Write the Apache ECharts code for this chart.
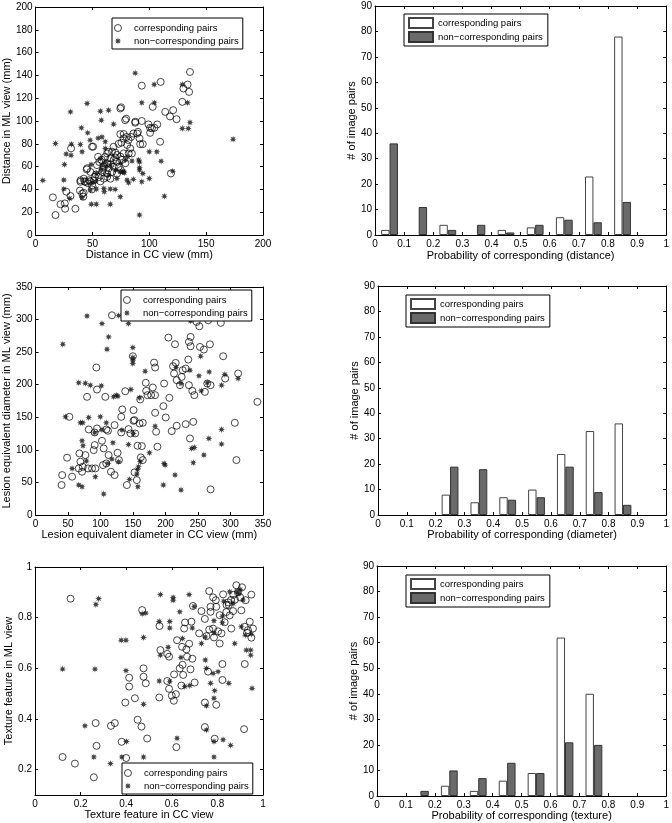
<!DOCTYPE html>
<html><head><meta charset="utf-8">
<script src="https://cdn.jsdelivr.net/npm/echarts@6/dist/echarts.min.js"></script>
<style>html,body{margin:0;padding:0;background:#fff}#c{width:672px;height:823px}</style>
</head><body><div id="c"></div>
<script>
// ---------- DATA ----------
const labelCorr = 'corresponding pairs';
const labelNon = 'non\u2212corresponding pairs';

// Panel 1: distance scatter [CC view, ML view] (mm)
const distCorr = [[15.2,33],[17.5,17.5],[21.9,27],[25.7,27.7],[26,23],[27,38],[30.7,34.2],[31.2,76],[35,23],[39,39],[39.4,46.7],[42,33.6],[42.3,37],[43,47],[46,45.5],[45,57.5],[48,47],[49.6,77.4],[49.6,40],[52,51],[54,61.3],[55,68.6],[61.3,68.6],[64,73],[68.6,77.4],[73,80],[74.5,111],[74.5,88.5],[77.4,84.7],[78.8,100.7],[79.7,102],[80,86],[81.8,83.2],[83.2,76],[84.7,71.5],[86,89],[87.6,98.5],[90,90.5],[91.4,84.7],[92,79.7],[93.4,100],[93.4,131],[94.3,79.7],[99.3,97],[100.7,94],[100.7,89.6],[104.5,94],[103,112.4],[107,97],[110,134.3],[109.5,81.8],[114,108],[118.2,104],[119,54],[121,109.5],[124,101.6],[129,116.8],[130,128.5],[133.7,132],[135,125.5],[135.8,143],
[62.9,71.6],[67.2,73.1],[70.2,72.2],[71.6,70.2],[74.6,68.7],[77.5,71.6],[81.9,71.6],[65.8,67.3],[68.7,65.8],[71.6,64.3],[62.9,62.9],[60,59.9],[64.3,58.5],[68.7,59.9],[73.1,59.9],[58.5,55.3],[62.9,53.8],[67.3,55.3],[71.6,53.8],[55.6,50.9],[60,49.4],[65.8,49.4],[45.3,58.5],[48.2,55.3],[42.4,49.4],[39.5,48],[43.9,46.5],[46.8,48],[51.2,48],[49.7,43.6],[41,36.3],
[75.2,112],[87.7,99.4],[102.3,93.6],[77.5,88.6],[75.5,81],[84,86],[80.5,79],[89.3,89],[50.6,77.5],[56,64],[58,66],[66,62],[70,68],[59,57],[63,51],[76,66],[79,63],[53,53],[57,47],[75,57]];
const distNon = [[6.4,47.9],[17.5,80.3],[25.4,61.9],[24.8,48.2],[24.8,40.3],[26.9,71],[30,32],[30.7,108],[31.2,70],[31.5,79.7],[39.4,79.4],[40.3,94],[40.9,73],[40.9,32.7],[45.3,115.3],[45.8,89.6],[48,83.2],[48.8,61.9],[49,27],[49.6,45.8],[53.4,40.3],[53.4,27],[55,85],[57,108.6],[57.8,100.7],[58.4,86],[61.3,81.8],[60.4,38],[64.2,109.5],[65.7,40.3],[65.7,27],[68.6,97.2],[70,40],[71.5,49.6],[74.5,33.6],[78,54.6],[81.8,45.8],[86,48.8],[87.6,142],[91.4,64],[91.4,59],[91.4,57],[91.4,17.5],[93.4,116],[93.4,46.7],[94.3,54],[100,73],[100,49.6],[104.3,132],[104.5,116],[106.6,73],[110.4,64.8],[113.3,34],[120.6,56],[129,93.4],[129,132],[133.7,116],[134.3,93.4],[135.8,98.7],[173.7,84],
[61.4,64.3],[58.5,61.4],[65.8,61.4],[64.3,52.6],[70.2,57],[74.6,55.5],[77.5,55.5],[80.4,48.2],[84.8,64.9],[90.6,65.8],[52.6,46.8],[60,40.9],[48.2,39.5],[62,60],[58,57],[76.5,55.5],[79,65.7],[81,68.6],[61.3,76],[57,67],[53.4,54],[74.5,62.8]];

// Panel 3: lesion equivalent diameter scatter (mm)
const diamCorr = [[40.9,61.3],[40,46],[56.2,58.8],[48.5,87.9],[52,150.7],[66.4,71.5],[69,81.8],[72.6,74.1],[71.5,66.4],[67.5,94.5],[76.6,92],[80.7,71.5],[79.2,181.4],[81.8,131.3],[86.9,71.5],[91,107.3],[92,71.5],[94.5,192.6],[91,126.7],[89.4,99.6],[94.5,132.9],[102.2,113.9],[103.7,76.6],[104.8,102.2],[93.5,226.4],[107.3,181.4],[108.8,131.3],[111.4,129.3],[108.8,79.2],[112.4,92],[116,66.4],[121.6,138],[121.6,61.3],[126.2,95.5],[128.3,84.3],[117.5,306.6],[131.8,150.7],[133.4,162],[131.8,126.7],[138,190],[140.5,46],[143,131.8],[146.1,125.2],[149.7,243.7],[150.7,161],[150.7,144.6],[152.3,145.6],[153.3,125.2],[152.3,65.4],[155.8,53.6],[156.9,106.3],[160,140.5],[161,177.3],[162,88.4],[163.5,105.8],[165,141.5],[165,84.3],[169.6,202.9],[170.2,190.6],[172.2,184],[177.8,184],[183.9,184],[180.4,195.7],[182.4,234],[184,226.4],[184,156.9],[185.5,127.8],[187.5,104.8],[196.7,167.1],[197.8,201.8],[200.3,149.7],[204.4,272.4],[205.9,179.9],[209.5,128.8],[211.6,228.4],[213.1,217.2],[214.6,262.1],[215.6,233.5],[217.2,137],[217.2,207],[222.3,199.3],[224.8,212],[226.4,222.3],[231,224.8],[231,139.5],[235,238.6],[236,265.7],[238.6,273.4],[238.6,259],[236,199.3],[237.6,117.5],[241.2,190.6],[242.7,143],[244.3,184],[247.8,296.4],[252,289.7],[253,258],[259,254],[260.6,189],[264.2,201.8],[265.7,299],[268.3,262],[269.3,199.3],[269.3,39.3],[285.1,295],[288.7,243.7],[291.8,209.5],[306.6,141.5],[309.1,84.3],[311.7,217.2],[341.3,173.7]];
const diamNon = [[41.9,262.1],[46,150.7],[56.2,71.5],[66.4,46],[66.4,202.9],[69,141.5],[72.6,141.5],[71.5,43.4],[71.5,113.9],[73,106.3],[76.6,202.3],[78.2,82.8],[79.2,305.6],[81.8,149.7],[84.3,199.3],[91,126.2],[92,58.8],[99.6,150.7],[101.2,198.3],[102.2,293.8],[102.2,130.8],[104.8,32.2],[108.8,141.5],[109.9,254.5],[112.4,273.4],[111.4,79.2],[117.5,85.8],[119,110.9],[120.1,181.4],[124.2,184],[126.7,182.4],[127.8,81.8],[127.8,306.1],[132.9,130.3],[144.6,54.7],[143,293.8],[143,108.3],[146.7,192.6],[149.7,257],[149.7,241.7],[149.7,237.6],[149.7,232.5],[150.7,125.2],[156.9,70],[158.4,74.1],[155.8,62.9],[157.4,43.4],[160,179.9],[161,81.8],[168.6,220.7],[175.3,95.5],[184,136.4],[197.8,79.2],[199.3,76.6],[196.7,46],[214.6,61.3],[216.1,226.4],[223.8,201.8],[223.8,38.3],[237.6,222.3],[238.6,297.9],[240.2,102.2],[244.3,103.7],[242.7,80.2],[251.4,213.6],[254,243.7],[255,190.6],[259,92],[264.2,202.9],[266.7,117.5],[267.2,219.7],[286.2,199.3],[286.2,131.3],[286.2,108.8],[291.3,215.6],[311.7,209.5]];

// Panel 5: texture feature scatter
const texCorr = [[0.121,0.25],[0.156,0.875],[0.175,0.224],[0.258,0.17],[0.266,0.384],[0.27,0.294],[0.333,0.373],[0.35,0.384],[0.38,0.31],[0.40,0.246],[0.396,0.465],[0.413,0.528],[0.413,0.563],[0.438,0.482],[0.45,0.397],[0.467,0.37],[0.47,0.83],[0.476,0.6],[0.476,0.567],[0.486,0.541],[0.492,0.323],[0.588,0.646],[0.545,0.485],[0.546,0.767],[0.55,0.672],[0.58,0.657],[0.58,0.55],[0.588,0.519],[0.6,0.492],[0.609,0.472],[0.618,0.498],[0.61,0.576],[0.62,0.289],[0.623,0.711],[0.635,0.6],[0.642,0.532],[0.645,0.685],[0.647,0.614],[0.65,0.574],[0.654,0.757],[0.658,0.781],[0.664,0.675],[0.667,0.646],[0.676,0.697],[0.682,0.596],[0.686,0.784],[0.69,0.638],[0.7,0.544],[0.693,0.846],[0.72,0.738],[0.73,0.826],[0.745,0.795],[0.745,0.465],[0.745,0.368],[0.752,0.727],[0.759,0.587],[0.764,0.753],[0.77,0.843],[0.77,0.823],[0.764,0.905],[0.781,0.88],[0.781,0.757],[0.785,0.722],[0.793,0.869],[0.795,0.843],[0.795,0.456],[0.788,0.322],[0.803,0.746],[0.81,0.698],[0.818,0.738],[0.822,0.617],[0.822,0.554],[0.825,0.892],[0.832,0.782],[0.839,0.822],[0.848,0.86],[0.854,0.809],[0.861,0.757],[0.869,0.826],[0.877,0.871],[0.883,0.928],[0.89,0.9],[0.905,0.829],[0.908,0.92],[0.92,0.764],[0.92,0.617],[0.917,0.36],[0.934,0.751],[0.942,0.784],[0.949,0.891],[0.949,0.721],[0.956,0.757],[0.924,0.869],[0.86,0.87],[0.87,0.89],[0.9,0.88],[0.84,0.85],[0.81,0.81],[0.85,0.85],[0.93,0.74]];
const texNon = [[0.121,0.597],[0.219,0.373],[0.258,0.25],[0.263,0.597],[0.267,0.852],[0.279,0.875],[0.331,0.224],[0.378,0.711],[0.399,0.711],[0.401,0.311],[0.381,0.25],[0.399,0.591],[0.47,0.815],[0.476,0.722],[0.476,0.458],[0.476,0.25],[0.486,0.818],[0.545,0.785],[0.591,0.785],[0.545,0.55],[0.55,0.891],[0.55,0.652],[0.584,0.683],[0.591,0.759],[0.591,0.549],[0.606,0.869],[0.606,0.88],[0.623,0.324],[0.635,0.823],[0.64,0.643],[0.647,0.718],[0.657,0.528],[0.676,0.891],[0.679,0.532],[0.69,0.759],[0.698,0.844],[0.73,0.698],[0.747,0.724],[0.747,0.633],[0.752,0.6],[0.752,0.452],[0.752,0.357],[0.77,0.541],[0.781,0.58],[0.785,0.788],[0.785,0.74],[0.785,0.482],[0.788,0.512],[0.785,0.311],[0.785,0.25],[0.803,0.587],[0.825,0.318],[0.822,0.806],[0.822,0.78],[0.828,0.865],[0.85,0.541],[0.858,0.296],[0.854,0.902],[0.869,0.856],[0.876,0.698],[0.9,0.911],[0.905,0.764],[0.912,0.87],[0.923,0.731],[0.927,0.672],[0.946,0.672],[0.946,0.652],[0.949,0.735],[0.952,0.521],[0.886,0.902],[0.895,0.895]];

// Histograms: bin centres and counts
const binCenters = [0.05,0.15,0.25,0.35,0.45,0.55,0.65,0.75,0.85,0.95];
const distHistCorr = [2,0,4,0,2,3,7,23,78,0];
const distHistNon  = [36,11,2,4,1,4,6,5,13,0];
const diamHistCorr = [0,0,8,5,7,10,24,33,36,0];
const diamHistNon  = [0,0,19,18,6,7,19,9,4,0];
const texHistCorr  = [0,0,4,2,6,9,62,40,0,0];
const texHistNon   = [0,2,10,7,13,9,21,20,0,0];

// Tick labels
const distTicksX = [0,50,100,150,200];
const distTicksY = [0,20,40,60,80,100,120,140,160,180,200];
const diamTicks = [0,50,100,150,200,250,300,350];
const texTicksX = [0,0.2,0.4,0.6,0.8,1];
const texTicksY = [0.2,0.4,0.6,0.8,1];
const probTicks = [0,0.1,0.2,0.3,0.4,0.5,0.6,0.7,0.8,0.9,1];
const countTicks = [0,10,20,30,40,50,60,70,80,90];

// ---------- CHART ----------
const FONT = '"Liberation Sans", Arial, Helvetica, sans-serif';
const STAR = 'path://M20 10 L14.16 11.72 L17.07 17.07 L11.72 14.16 L10 20 L8.28 14.16 L2.93 17.07 L5.84 11.72 L0 10 L5.84 8.28 L2.93 2.93 L8.28 5.84 L10 0 L11.72 5.84 L17.07 2.93 L14.16 8.28 Z';
const AX = '#000';

const grids = [
  {left:35, top:7, width:228, height:228},
  {left:375, top:6, width:292, height:229},
  {left:35, top:287, width:228, height:228},
  {left:378, top:286, width:290, height:229},
  {left:35, top:567, width:228, height:228},
  {left:377, top:566, width:291, height:230}
];

const xAxes = [], yAxes = [];
function addAxes(gi, xr, xt, yr, yt, xname, yname, xgap, ygap) {
  const common = {gridIndex:gi, type:'value', splitLine:{show:false},
    axisLine:{onZero:false, lineStyle:{color:AX, width:1}}};
  xAxes.push(Object.assign({}, common, {position:'bottom', min:xr[0], max:xr[1],
    axisTick:{inside:true, length:3, customValues:xt, lineStyle:{color:AX}},
    axisLabel:{customValues:xt, fontSize:10, color:'#000', margin:4, fontFamily:FONT},
    name:xname, nameLocation:'middle', nameGap:xgap,
    nameTextStyle:{fontSize:11, color:'#000', fontFamily:FONT}}));
  xAxes.push(Object.assign({}, common, {position:'top', min:xr[0], max:xr[1],
    axisTick:{inside:true, length:3, customValues:xt, lineStyle:{color:AX}},
    axisLabel:{show:false}}));
  yAxes.push(Object.assign({}, common, {position:'left', min:yr[0], max:yr[1],
    axisTick:{inside:true, length:3, customValues:yt, lineStyle:{color:AX}},
    axisLabel:{customValues:yt, fontSize:10, color:'#000', margin:3, fontFamily:FONT},
    name:yname, nameLocation:'middle', nameGap:ygap, nameRotate:90,
    nameTextStyle:{fontSize:11, color:'#000', fontFamily:FONT}}));
  yAxes.push(Object.assign({}, common, {position:'right', min:yr[0], max:yr[1],
    axisTick:{inside:true, length:3, customValues:yt, lineStyle:{color:AX}},
    axisLabel:{show:false}}));
}
addAxes(0,[0,200],distTicksX,[0,200],distTicksY,'Distance in CC view (mm)','Distance in ML view (mm)',12,21);
addAxes(1,[0,1],probTicks,[0,90],countTicks,'Probability of corresponding (distance)','# of image pairs',15,16);
addAxes(2,[0,350],diamTicks,[0,350],diamTicks,'Lesion equivalent diameter in CC view (mm)','Lesion equivalent diameter in ML view (mm)',14,21);
addAxes(3,[0,1],probTicks,[0,90],countTicks,'Probability of corresponding (diameter)','# of image pairs',13,16);
addAxes(4,[0,1],texTicksX,[0.1,1],texTicksY,'Texture feature in CC view','Texture feature in ML view',14,21);
addAxes(5,[0,1],probTicks,[0,90],countTicks,'Probability of corresponding (texture)','# of image pairs',13,16);

const series = [];
const names = {};
const circleStyle = {color:'rgba(255,255,255,0)', borderColor:'#000', borderWidth:0.9};
function addScatter(gi, corr, non) {
  const a = 'c'+gi, b = 'n'+gi;
  names[a] = labelCorr; names[b] = labelNon;
  series.push({type:'scatter', name:a, xAxisIndex:gi*2, yAxisIndex:gi*2, data:corr,
    symbol:'circle', symbolSize:7, silent:true, itemStyle:circleStyle});
  series.push({type:'scatter', name:b, xAxisIndex:gi*2, yAxisIndex:gi*2, data:non,
    symbol:STAR, symbolSize:7, silent:true, itemStyle:{color:'#111'}});
  return [{name:a, itemStyle:circleStyle}, {name:b}];
}
function addHist(gi, corr, non) {
  const a = 'c'+gi, b = 'n'+gi;
  names[a] = labelCorr; names[b] = labelNon;
  const mk = arr => binCenters.map((c,i)=>[c,arr[i]]).filter(d=>d[1]>0);
  series.push({type:'bar', name:a, xAxisIndex:gi*2, yAxisIndex:gi*2, data:mk(corr),
    barWidth:8.4, barGap:'0%', silent:true,
    itemStyle:{color:'#ffffff', borderColor:'#444', borderWidth:1}});
  series.push({type:'bar', name:b, xAxisIndex:gi*2, yAxisIndex:gi*2, data:mk(non),
    barWidth:8.4, barGap:'0%', silent:true,
    itemStyle:{color:'#6a6a6a', borderColor:'#333', borderWidth:1}});
  return [a,b];
}
const s0 = addScatter(0, distCorr, distNon);
const s1 = addHist(1, distHistCorr, distHistNon);
const s2 = addScatter(2, diamCorr, diamNon);
const s3 = addHist(3, diamHistCorr, diamHistNon);
const s4 = addScatter(4, texCorr, texNon);
const s5 = addHist(5, texHistCorr, texHistNon);

function scatterLegend(data, left, top) {
  return {data, left, top, orient:'vertical', padding:[4,4,2,2], itemGap:1,
    itemWidth:22, itemHeight:7, borderColor:'#000', borderWidth:1, backgroundColor:'#fff',
    selectedMode:false, formatter:n=>names[n],
    textStyle:{fontSize:9.5, color:'#000', fontFamily:FONT, lineHeight:12}};
}
function histLegend(data, left, top) {
  return {data, left, top, orient:'vertical', padding:[3,5,3,4], itemGap:2,
    itemWidth:24, itemHeight:10, icon:'rect', borderColor:'#000', borderWidth:1, backgroundColor:'#fff',
    selectedMode:false, formatter:n=>names[n],
    textStyle:{fontSize:9.5, color:'#000', fontFamily:FONT}};
}

const chart = echarts.init(document.getElementById('c'), null, {renderer:'canvas'});
chart.setOption({
  animation:false,
  backgroundColor:'#fff',
  textStyle:{fontFamily:FONT},
  grid:grids,
  xAxis:xAxes, yAxis:yAxes,
  legend:[
    scatterLegend(s0,112,18), histLegend(s1,404,14),
    scatterLegend(s2,121,290), histLegend(s3,406,295),
    scatterLegend(s4,122,763), histLegend(s5,406,575)
  ],
  series
});
</script></body></html>
